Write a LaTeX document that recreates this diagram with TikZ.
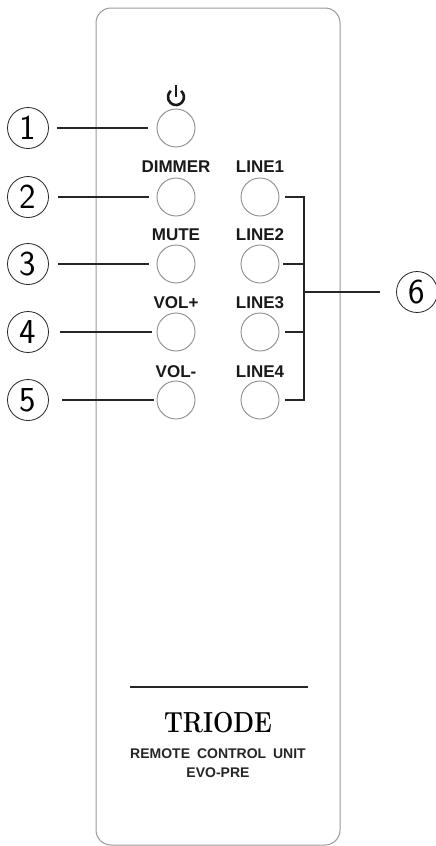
\documentclass[tikz,border=0pt]{standalone}
\usepackage{fontspec}
\newfontfamily\labelfont{Liberation Sans}
\begin{document}
\begin{tikzpicture}
		[x=1pt,y=-1pt,
		panel/.style={draw=black!40,line width=1pt,rounded corners=15pt},
		button/.style={circle,draw=black!45,line width=0.9pt,minimum size=38pt,inner sep=0pt},
		callout/.style={circle,draw=black!85,line width=0.8pt,minimum size=41pt,inner sep=0pt,
			font=\sffamily\fontsize{35}{35}\selectfont},
		lead/.style={draw=black!85,line width=1.6pt},
		caption/.style={font=\labelfont\bfseries\fontsize{17}{17}\selectfont,text=black!90,inner sep=0pt},
		small caption/.style={font=\labelfont\bfseries\fontsize{14}{14}\selectfont,text=black!85,inner sep=0pt}]
		\useasboundingbox (0,0) rectangle (436,846);
		\draw[panel] (96,8) rectangle (340,845);

		\node[button] (power) at (176,128) {};
		\node[button] (dimmer) at (176,197) {};
		\node[button] (mute) at (176,264) {};
		\node[button] (volup) at (176,332) {};
		\node[button] (voldown) at (176,400) {};
		\node[button] (line1) at (260,197) {};
		\node[button] (line2) at (260,264) {};
		\node[button] (line3) at (260,332) {};
		\node[button] (line4) at (260,400) {};

		\node[caption] (dimmertext) at (176,167) {DIMMER};
		\node[caption] (mutetext) at (176,235) {MUTE};
		\node[caption] (voluptext) at (176,303) {VOL+};
		\node[caption] (voldowntext) at (176,372) {VOL-};
		\node[caption] (line1text) at (260,167) {LINE1};
		\node[caption] (line2text) at (260,235) {LINE2};
		\node[caption] (line3text) at (260,303) {LINE3};
		\node[caption] (line4text) at (260,372) {LINE4};

		% power sign
		\draw[black!90,line width=2.6pt] (181.1,90.9) arc[start angle=50,end angle=-230,radius=8pt];
		\draw[black!90,line width=2.6pt] (176,85) -- (176,97);

		\node[callout] (c1) at (28,128) {1};
		\node[callout] (c2) at (28,197) {2};
		\node[callout] (c3) at (28,264) {3};
		\node[callout] (c4) at (28,332) {4};
		\node[callout] (c5) at (28,400) {5};
		\node[callout] (c6) at (417,292) {6};

		\draw[lead,shorten <=8pt,shorten >=9pt] (c1) -- (power);
		\draw[lead,shorten <=9pt,shorten >=8pt] (c2) -- (dimmer);
		\draw[lead,shorten <=9pt,shorten >=8pt] (c3) -- (mute);
		\draw[lead,shorten <=11pt,shorten >=5pt] (c4) -- (volup);
		\draw[lead,shorten <=13pt,shorten >=3pt] (c5) -- (voldown);

		\coordinate (join1) at (304,197);
		\coordinate (join2) at (304,264);
		\coordinate (join3) at (304,332);
		\coordinate (join4) at (304,400);
		\coordinate (join6) at (304,292);
		\draw[lead,shorten <=6pt] (line1) -- (join1);
		\draw[lead,shorten <=4pt] (line2) -- (join2);
		\draw[lead,shorten <=6pt] (line3) -- (join3);
		\draw[lead,shorten <=6pt] (line4) -- (join4);
		\draw[lead,line cap=rect] (join1) -- (join4);
		\draw[lead,shorten >=16pt] (join6) -- (c6);

		\coordinate (ruleleft) at (130,687);
		\coordinate (ruleright) at (308,687);
		\draw[lead] (ruleleft) -- (ruleright);
		\node[inner sep=0pt,transform shape,xscale=.83,font=\bfseries\fontsize{29}{29}\selectfont] (brand) at (218,723) {TRIODE};
		\node[small caption] (unit) at (218,754) {REMOTE\hspace{3pt} CONTROL\hspace{3pt} UNIT};
		\node[small caption] (model) at (218,773) {EVO-PRE};
\end{tikzpicture}
\end{document}
